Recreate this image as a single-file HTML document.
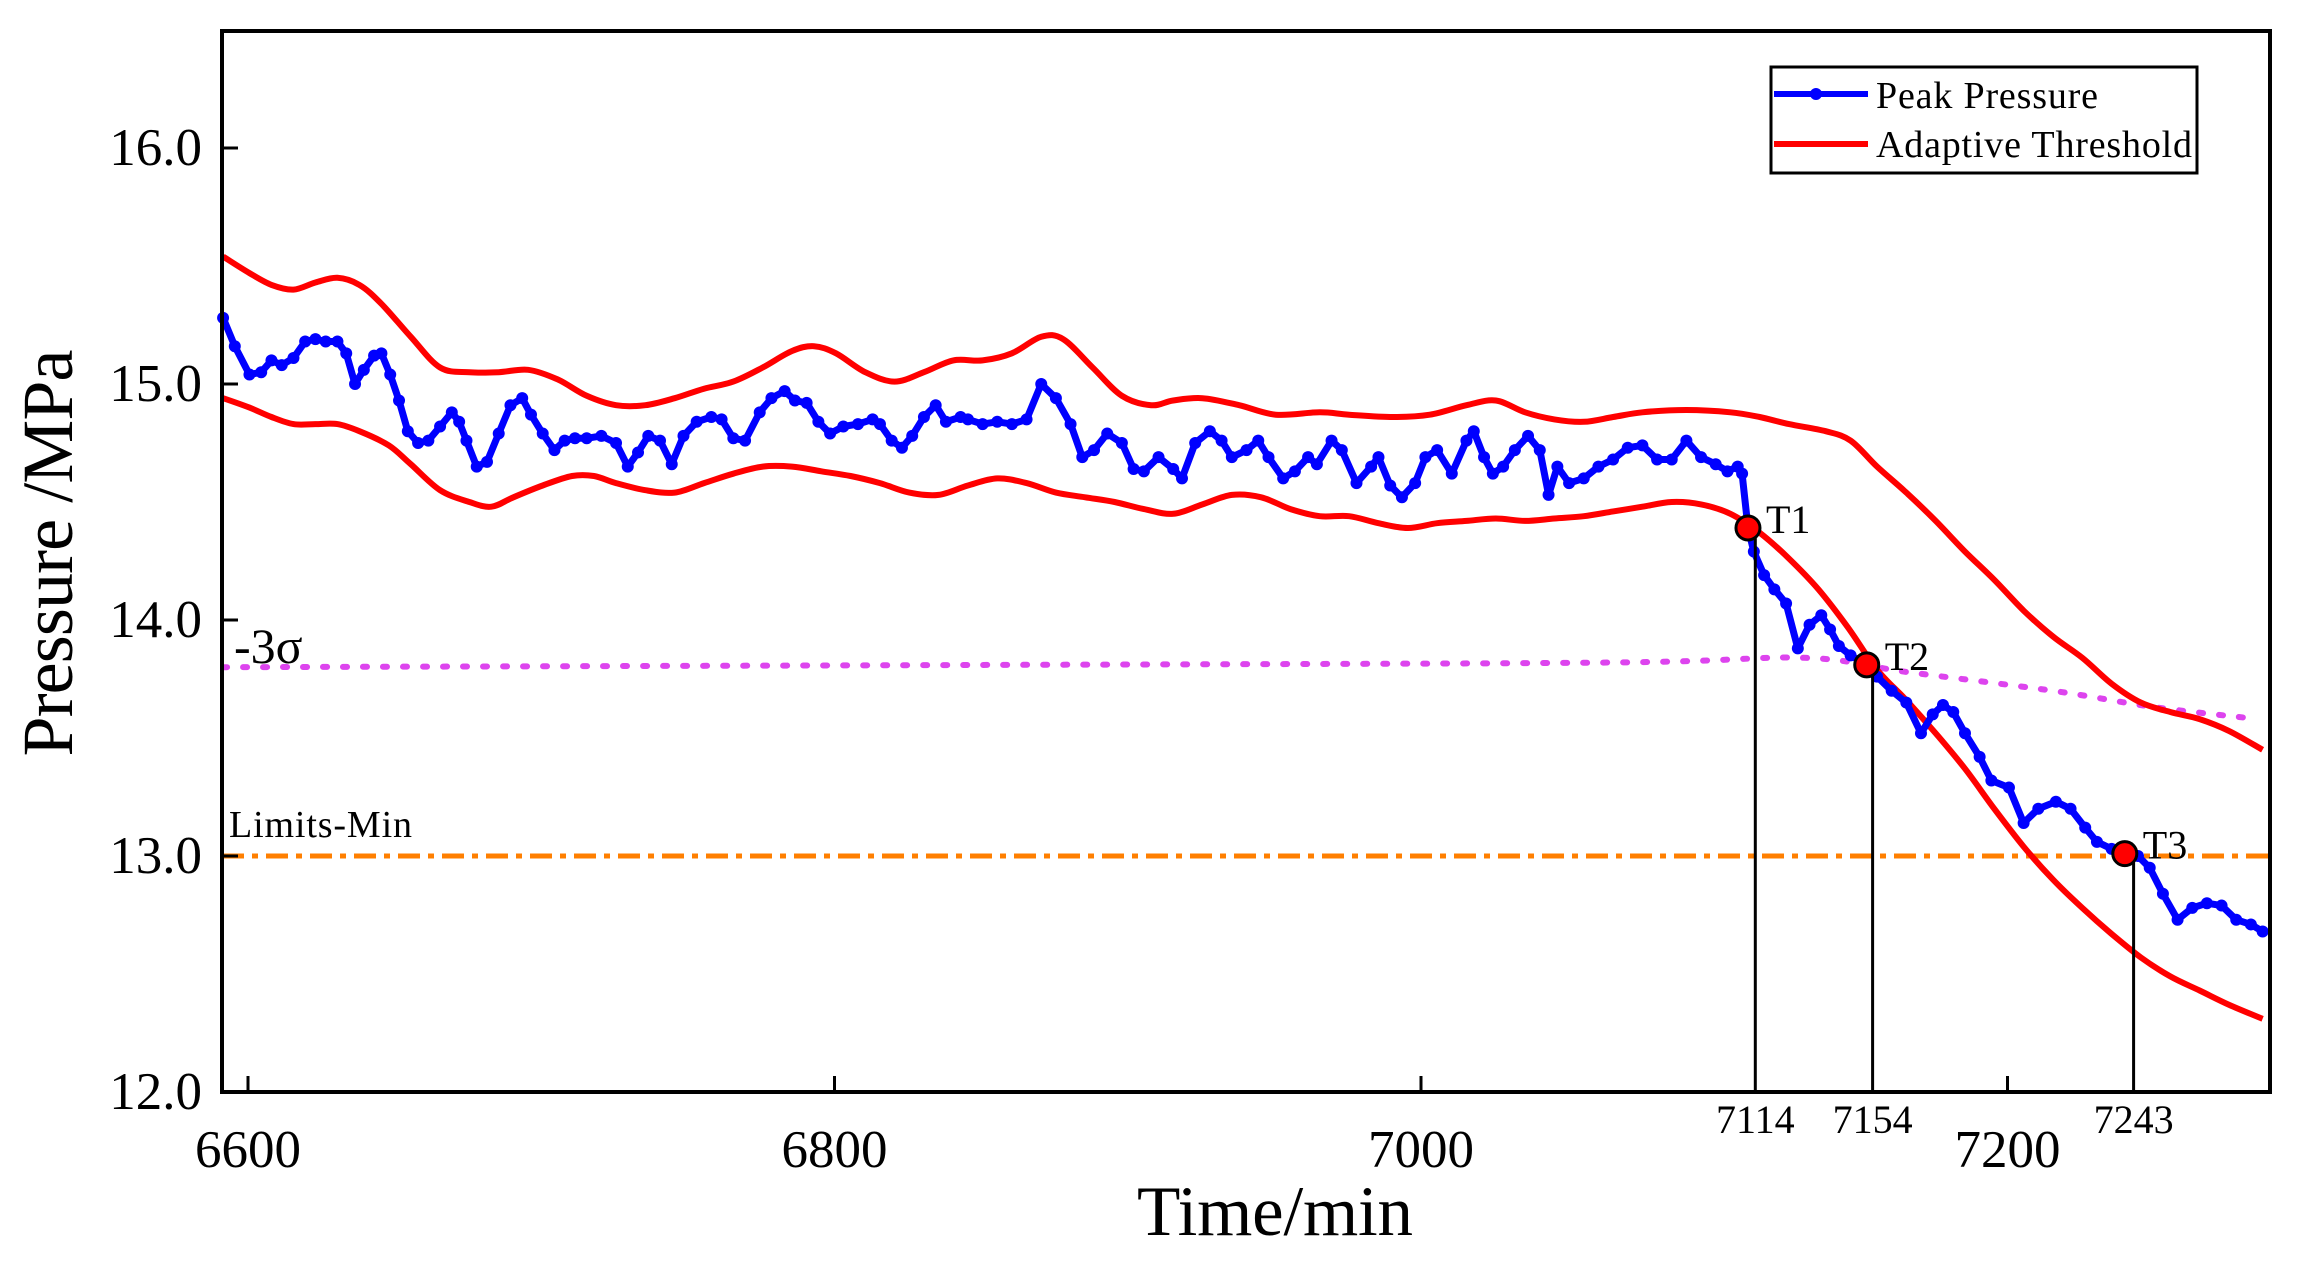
<!DOCTYPE html>
<html><head><meta charset="utf-8"><style>
html,body{margin:0;padding:0;background:#fff;}
svg{display:block;}
text{font-family:"Liberation Serif",serif;fill:#000;}
</style></head><body>
<svg id="chart" width="2299" height="1266" viewBox="0 0 2299 1266" xmlns="http://www.w3.org/2000/svg">
<g id="plot"></g>
</svg>
<script>
const xTicks = [6600, 6800, 7000, 7200];
const yTicks = [12.0, 13.0, 14.0, 15.0, 16.0];
const eventTimes = [7114, 7154, 7243];
const eventLabels = ["T1", "T2", "T3"];
const markerTimes = [7111.5, 7152, 7240];
const markerValues = [14.39, 13.81, 13.01];
const peakTimes = [6591.5,6595.5,6600.5,6604.5,6608,6611.5,6615.5,6619.5,6623,6626.5,6630.5,6633.5,6636.5,6639.5,6643,6645.5,6648.5,6651.5,6654.5,6658,6661.5,6665.5,6669.5,6672,6674.5,6678,6681.5,6685.5,6689.5,6693.5,6696.5,6700.5,6704.5,6708,6711.5,6715.5,6720.5,6725.5,6729.5,6733,6736.5,6740.5,6744.5,6748.5,6753,6758,6761.5,6765.5,6769.5,6774.5,6778.5,6783,6786.5,6790.5,6794.5,6798.5,6803,6808,6813,6815.5,6819.5,6823,6826.5,6830.5,6834.5,6838,6843,6845.5,6850.5,6855.5,6860.5,6865.5,6870.5,6875.5,6880.5,6884.5,6888.5,6893,6898,6902,6905.5,6910.5,6915.5,6918.5,6923,6928,6932,6935.5,6940.5,6944.5,6948,6953,6957,6961.5,6964.5,6969.5,6973,6978,6983,6985.5,6989.5,6993.5,6998,7001.5,7005.5,7010.5,7015.5,7018,7021.5,7024.5,7028,7032,7036.5,7040.5,7043.5,7046.5,7050.5,7055.5,7060.5,7065.5,7070.5,7075.5,7080.5,7085.5,7090.5,7095.5,7100.5,7104.5,7108,7109.5,7111.5,7113.5,7117,7120.5,7124.5,7128.5,7132.5,7136.5,7139.5,7142.5,7146.5,7152,7155.5,7160.5,7165.5,7170.5,7174.5,7178,7181.5,7185.5,7190.5,7194.5,7200.5,7205.5,7210.5,7216.5,7221.5,7226.5,7230.5,7235.5,7240,7244.5,7248.5,7253,7258,7263,7268,7273,7278,7283,7287];
const peakValues = [15.28,15.16,15.04,15.05,15.10,15.08,15.11,15.18,15.19,15.18,15.18,15.13,15.00,15.06,15.12,15.13,15.04,14.93,14.80,14.75,14.76,14.82,14.88,14.84,14.76,14.65,14.67,14.79,14.91,14.94,14.87,14.79,14.72,14.76,14.77,14.77,14.78,14.75,14.65,14.71,14.78,14.76,14.66,14.78,14.84,14.86,14.85,14.77,14.76,14.88,14.94,14.97,14.93,14.92,14.84,14.79,14.82,14.83,14.85,14.83,14.76,14.73,14.78,14.86,14.91,14.84,14.86,14.85,14.83,14.84,14.83,14.85,15.00,14.94,14.83,14.69,14.72,14.79,14.75,14.64,14.63,14.69,14.64,14.60,14.75,14.80,14.76,14.69,14.72,14.76,14.69,14.60,14.63,14.69,14.66,14.76,14.72,14.58,14.65,14.69,14.57,14.52,14.58,14.69,14.72,14.62,14.76,14.80,14.69,14.62,14.65,14.72,14.78,14.72,14.53,14.65,14.58,14.60,14.65,14.68,14.73,14.74,14.68,14.68,14.76,14.69,14.66,14.63,14.65,14.62,14.39,14.29,14.19,14.13,14.07,13.88,13.98,14.02,13.96,13.89,13.85,13.81,13.76,13.70,13.65,13.52,13.60,13.64,13.61,13.52,13.42,13.32,13.29,13.14,13.20,13.23,13.20,13.12,13.06,13.03,13.01,13.00,12.95,12.84,12.73,12.78,12.80,12.79,12.73,12.71,12.68];
const upperTimes = [6591.5,6600.5,6608,6615.5,6623,6630.5,6638,6645.5,6655.5,6665.5,6675.5,6685.5,6695.5,6705.5,6715.5,6725.5,6735.5,6745.5,6755.5,6765.5,6775.5,6785.5,6793,6800.5,6810.5,6820.5,6830.5,6840.5,6850.5,6860.5,6870.5,6878,6888,6898,6908,6915.5,6925.5,6938,6950.5,6965.5,6975.5,6990.5,7003,7015.5,7025.5,7035.5,7045.5,7055.5,7065.5,7075.5,7090.5,7105.5,7115.5,7125.5,7138,7146.5,7155.5,7165.5,7175.5,7185.5,7195.5,7205.5,7215.5,7225.5,7235.5,7245.5,7255.5,7265.5,7275.5,7287];
const upperValues = [15.54,15.47,15.42,15.40,15.43,15.45,15.42,15.34,15.20,15.07,15.05,15.05,15.06,15.02,14.95,14.91,14.91,14.94,14.98,15.01,15.07,15.14,15.16,15.13,15.05,15.01,15.05,15.10,15.10,15.13,15.20,15.19,15.07,14.95,14.91,14.93,14.94,14.91,14.87,14.88,14.87,14.86,14.87,14.91,14.93,14.88,14.85,14.84,14.86,14.88,14.89,14.88,14.86,14.83,14.80,14.76,14.65,14.54,14.42,14.29,14.17,14.04,13.93,13.84,13.73,13.65,13.61,13.58,13.53,13.45];
const lowerTimes = [6591.5,6600.5,6608,6615.5,6623,6630.5,6638,6648,6655.5,6665.5,6675.5,6683,6690.5,6700.5,6710.5,6718,6725.5,6735.5,6745.5,6755.5,6765.5,6775.5,6785.5,6795.5,6805.5,6815.5,6825.5,6835.5,6845.5,6855.5,6865.5,6875.5,6885.5,6895.5,6905.5,6915.5,6925.5,6935.5,6945.5,6955.5,6965.5,6975.5,6985.5,6995.5,7005.5,7015.5,7025.5,7035.5,7045.5,7055.5,7065.5,7075.5,7085.5,7095.5,7105.5,7115.5,7125.5,7135.5,7145.5,7155.5,7165.5,7175.5,7185.5,7195.5,7205.5,7215.5,7225.5,7235.5,7245.5,7255.5,7265.5,7275.5,7287];
const lowerValues = [14.94,14.90,14.86,14.83,14.83,14.83,14.80,14.74,14.66,14.55,14.50,14.48,14.52,14.57,14.61,14.61,14.58,14.55,14.54,14.58,14.62,14.65,14.65,14.63,14.61,14.58,14.54,14.53,14.57,14.60,14.58,14.54,14.52,14.50,14.47,14.45,14.49,14.53,14.52,14.47,14.44,14.44,14.41,14.39,14.41,14.42,14.43,14.42,14.43,14.44,14.46,14.48,14.50,14.49,14.45,14.37,14.26,14.13,13.97,13.79,13.66,13.52,13.37,13.20,13.04,12.90,12.78,12.67,12.57,12.49,12.43,12.37,12.31];
const sigmaTimes = [6591.5,6865.5,7065.5,7130.5,7165.5,7215.5,7250.5,7285.5];
const sigmaValues = [13.80,13.81,13.82,13.84,13.78,13.70,13.63,13.58];
const limitMin = 13.0;

const L=222,R=2270,T=31,B=1092;
function xs(t){return 248+(t-6600)*2.9325;}
function ys(p){return 1092-(p-12)*236;}
const NS='http://www.w3.org/2000/svg';
const g=document.getElementById('plot');
function mk(tag,attrs,parent){const e=document.createElementNS(NS,tag);for(const k in attrs)e.setAttribute(k,attrs[k]);(parent||g).appendChild(e);return e;}
function smooth(ts,vs){let pts=ts.map((t,i)=>[xs(t),ys(vs[i])]);let d='M'+pts[0][0].toFixed(1)+','+pts[0][1].toFixed(1);
for(let i=0;i<pts.length-1;i++){const p0=pts[i-1]||pts[i],p1=pts[i],p2=pts[i+1],p3=pts[i+2]||p2;
d+=' C'+(p1[0]+(p2[0]-p0[0])/6).toFixed(1)+','+(p1[1]+(p2[1]-p0[1])/6).toFixed(1)+' '+(p2[0]-(p3[0]-p1[0])/6).toFixed(1)+','+(p2[1]-(p3[1]-p1[1])/6).toFixed(1)+' '+p2[0].toFixed(1)+','+p2[1].toFixed(1);}
return d;}

let e;
e=mk('line',{x1:L,x2:R,y1:ys(limitMin),y2:ys(limitMin),stroke:'#ff7f00','stroke-width':5,'stroke-dasharray':'22 8 6 8'});


e=mk('path',{d:smooth(sigmaTimes,sigmaValues),fill:'none',stroke:'#dd44ee','stroke-width':6,'stroke-dasharray':'4 16','stroke-linecap':'round'});


e=mk('path',{d:smooth(upperTimes,upperValues),fill:'none',stroke:'#ff0000','stroke-width':6});


e=mk('path',{d:smooth(lowerTimes,lowerValues),fill:'none',stroke:'#ff0000','stroke-width':6});


e=mk('polyline',{points:peakTimes.map((t,i)=>xs(t).toFixed(1)+','+ys(peakValues[i]).toFixed(1)).join(' '),fill:'none',stroke:'#0000ff','stroke-width':7,'stroke-linejoin':'round'});


peakTimes.forEach((t,i)=>{const c=mk('circle',{cx:xs(t),cy:ys(peakValues[i]),r:6,fill:'#0000ff'});

});
eventTimes.forEach((t,i)=>{
 const ln=mk('line',{x1:xs(t),x2:xs(t),y1:ys(markerValues[i]),y2:B,stroke:'#000','stroke-width':3});
 
 
 const c=mk('circle',{cx:xs(markerTimes[i]),cy:ys(markerValues[i]),r:12,fill:'#ff0000',stroke:'#000','stroke-width':3});
 
 
 const tl=mk('text',{x:xs(markerTimes[i])+18,y:ys(markerValues[i])+5,'font-size':40});
 tl.textContent=eventLabels[i];
 
 
 const vl=mk('text',{x:xs(t),y:1133,'font-size':40,'text-anchor':'middle'});
 vl.textContent=String(t);
 
 
});
e=mk('rect',{x:L,y:T,width:R-L,height:B-T,fill:'none',stroke:'#000','stroke-width':4});


xTicks.forEach(v=>{
 const tk=mk('line',{x1:xs(v),x2:xs(v),y1:B,y2:B-16,stroke:'#000','stroke-width':3});
 
 
 const tx=mk('text',{x:xs(v),y:1167,'font-size':53,'text-anchor':'middle'});
 tx.textContent=String(v);
 
 
});
yTicks.forEach(v=>{
 const tk=mk('line',{x1:L,x2:L+16,y1:ys(v),y2:ys(v),stroke:'#000','stroke-width':3});
 
 
 const tx=mk('text',{x:202,y:ys(v)+17,'font-size':53,'text-anchor':'end'});
 tx.textContent=v.toFixed(1);
 
 
});
</script>
<svg style="position:absolute;left:0;top:0" width="2299" height="1266">
<text x="1275" y="1235" font-size="71" text-anchor="middle" textLength="276">Time/min</text>
<text transform="translate(72,553) rotate(-90)" x="0" y="0" font-size="72" text-anchor="middle" textLength="407">Pressure /MPa</text>
<text x="234" y="663" font-size="50">-3σ</text>
<text x="229" y="837" font-size="38" textLength="183">Limits-Min</text>
<g>
<rect x="1771" y="67" width="426" height="106" fill="#fff" stroke="#000" stroke-width="3"/>
<line x1="1774" x2="1868" y1="94" y2="94" stroke="#0000ff" stroke-width="6"/>
<circle cx="1816" cy="94" r="6" fill="#0000ff"/>
<text x="1876" y="108" font-size="38" textLength="222">Peak Pressure</text>
<line x1="1774" x2="1868" y1="144" y2="144" stroke="#ff0000" stroke-width="6"/>
<text x="1876" y="157" font-size="38" textLength="316">Adaptive Threshold</text>
</g>
</svg>
</body></html>
